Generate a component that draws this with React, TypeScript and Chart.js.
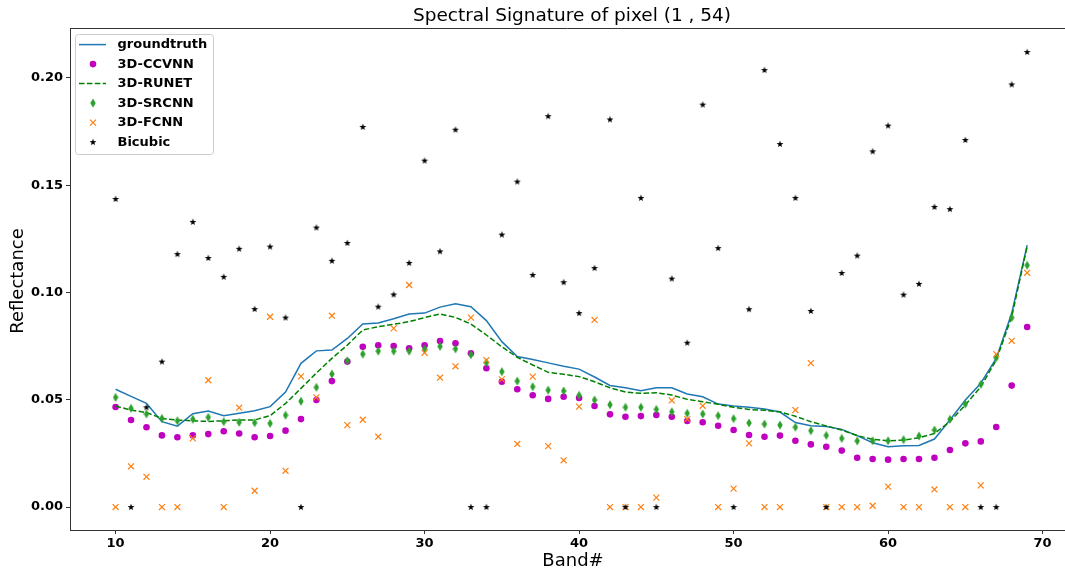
import React, { useEffect, useRef } from "react";
import { Chart, registerables } from "chart.js";

Chart.register(...registerables);

const bands = [10, 11, 12, 13, 14, 15, 16, 17, 18, 19, 20, 21, 22, 23, 24, 25, 26, 27, 28, 29, 30, 31, 32, 33, 34, 35, 36, 37, 38, 39, 40, 41, 42, 43, 44, 45, 46, 47, 48, 49, 50, 51, 52, 53, 54, 55, 56, 57, 58, 59, 60, 61, 62, 63, 64, 65, 66, 67, 68, 69];

const groundtruth = [0.0549, 0.0516, 0.0483, 0.0398, 0.0377, 0.0435, 0.0448, 0.0426, 0.0437, 0.0449, 0.0468, 0.0536, 0.067, 0.0728, 0.0732, 0.0786, 0.0853, 0.0858, 0.0878, 0.09, 0.0904, 0.0932, 0.0948, 0.0934, 0.0869, 0.0771, 0.0702, 0.0688, 0.0672, 0.0656, 0.0643, 0.0606, 0.0567, 0.0556, 0.0542, 0.0556, 0.0556, 0.0527, 0.0514, 0.048, 0.0471, 0.0465, 0.0457, 0.0443, 0.0394, 0.0379, 0.0375, 0.0362, 0.0333, 0.03, 0.0281, 0.0286, 0.0287, 0.0317, 0.0406, 0.0499, 0.0577, 0.0693, 0.0903, 0.1221];

const ccvnn = [0.0466, 0.0406, 0.0372, 0.0334, 0.0325, 0.0334, 0.034, 0.0353, 0.0343, 0.0325, 0.0331, 0.0356, 0.041, 0.0499, 0.0587, 0.0678, 0.0747, 0.0754, 0.0751, 0.074, 0.0754, 0.0774, 0.0763, 0.0717, 0.0647, 0.0584, 0.0549, 0.0521, 0.0504, 0.0514, 0.0508, 0.0471, 0.0432, 0.0421, 0.0424, 0.0429, 0.0421, 0.0401, 0.0395, 0.0379, 0.0359, 0.0336, 0.0328, 0.0333, 0.0309, 0.0292, 0.0281, 0.0263, 0.023, 0.0224, 0.0221, 0.0224, 0.0224, 0.023, 0.0266, 0.0297, 0.0306, 0.0373, 0.0566, 0.0839];

const runet = [0.0471, 0.0452, 0.044, 0.0413, 0.0406, 0.0402, 0.0399, 0.0402, 0.0406, 0.0406, 0.0426, 0.0483, 0.0553, 0.0625, 0.0693, 0.0755, 0.0825, 0.0841, 0.0852, 0.0864, 0.0883, 0.09, 0.0884, 0.0853, 0.0802, 0.0747, 0.0698, 0.0662, 0.0628, 0.0619, 0.0608, 0.0584, 0.0556, 0.0536, 0.053, 0.0533, 0.0522, 0.0502, 0.0491, 0.0479, 0.0465, 0.0455, 0.0451, 0.0444, 0.0423, 0.0398, 0.0378, 0.0359, 0.0333, 0.0316, 0.0309, 0.0312, 0.0323, 0.0343, 0.0398, 0.0476, 0.0561, 0.0685, 0.0887, 0.1215];

const srcnn = [0.0511, 0.046, 0.0434, 0.0413, 0.0402, 0.0409, 0.0418, 0.0398, 0.0395, 0.0393, 0.039, 0.0428, 0.0493, 0.0558, 0.062, 0.0682, 0.0713, 0.0727, 0.0727, 0.0727, 0.0737, 0.0749, 0.0737, 0.071, 0.0673, 0.0631, 0.0587, 0.0561, 0.0545, 0.0541, 0.0521, 0.0499, 0.0477, 0.0465, 0.0465, 0.0455, 0.0444, 0.0437, 0.0434, 0.0426, 0.0412, 0.0392, 0.0387, 0.0382, 0.0372, 0.0356, 0.0334, 0.032, 0.0308, 0.0309, 0.0309, 0.0314, 0.0331, 0.0359, 0.0409, 0.048, 0.0572, 0.0696, 0.0883, 0.1127];

const fcnn = [0, 0.019, 0.0141, 0, 0, 0.032, 0.0591, 0, 0.0463, 0.0076, 0.0887, 0.0169, 0.0609, 0.0511, 0.0892, 0.0382, 0.0407, 0.0328, 0.0833, 0.1035, 0.0719, 0.0603, 0.0656, 0.0883, 0.0685, 0.0595, 0.0294, 0.0608, 0.0284, 0.0218, 0.0468, 0.0872, 0, 0, 0, 0.0044, 0.0497, 0.041, 0.0472, 0, 0.0086, 0.0297, 0, 0, 0.0452, 0.0671, 0, 0, 0, 0.0006, 0.0095, 0, 0, 0.0082, 0, 0, 0.0101, 0.0713, 0.0775, 0.1092];

const bicubic = [0.1436, 0, 0.0465, 0.0678, 0.1179, 0.1329, 0.1161, 0.1073, 0.1204, 0.0923, 0.1214, 0.0883, 0, 0.1303, 0.1148, 0.1231, 0.1772, 0.0934, 0.0991, 0.1138, 0.1615, 0.1192, 0.1759, 0, 0, 0.127, 0.1517, 0.1082, 0.1822, 0.1048, 0.0904, 0.1114, 0.1807, 0, 0.1441, 0, 0.1065, 0.0766, 0.1876, 0.1207, 0, 0.0922, 0.2037, 0.1692, 0.1441, 0.0914, 0, 0.1091, 0.1172, 0.1658, 0.1778, 0.099, 0.104, 0.1399, 0.1389, 0.1711, 0, 0, 0.197, 0.2121];

const xTicks = [10, 20, 30, 40, 50, 60, 70];
const yTicks = [0, 0.05, 0.1, 0.15, 0.2];
const seriesNames = ["groundtruth", "3D-CCVNN", "3D-RUNET", "3D-SRCNN", "3D-FCNN", "Bicubic"];
const titleText = "Spectral Signature of pixel (1 , 54)";
const xLabel = "Band#";
const yLabel = "Reflectance";

const FONT = '"DejaVu Sans", sans-serif';

function makeStar(): HTMLCanvasElement {
  const c = document.createElement("canvas");
  c.width = 8;
  c.height = 8;
  const ctx = c.getContext("2d")!;
  const cx = 4, cy = 4.2, ro = 3.6, ri = 1.45;
  ctx.beginPath();
  for (let i = 0; i < 10; i++) {
    const r = i % 2 === 0 ? ro : ri;
    const a = -Math.PI / 2 + (i * Math.PI) / 5;
    const px = cx + r * Math.cos(a);
    const py = cy + r * Math.sin(a);
    if (i === 0) ctx.moveTo(px, py);
    else ctx.lineTo(px, py);
  }
  ctx.closePath();
  ctx.fillStyle = "#000";
  ctx.fill();
  return c;
}

function makeDiamond(): HTMLCanvasElement {
  const c = document.createElement("canvas");
  c.width = 6;
  c.height = 10;
  const ctx = c.getContext("2d")!;
  ctx.beginPath();
  ctx.moveTo(3, 0.4);
  ctx.lineTo(5.7, 5);
  ctx.lineTo(3, 9.6);
  ctx.lineTo(0.3, 5);
  ctx.closePath();
  ctx.fillStyle = "#2ca02c";
  ctx.fill();
  return c;
}

export default function App() {
  const ref = useRef<HTMLCanvasElement>(null);

  useEffect(() => {
    const canvas = ref.current;
    if (!canvas) return;
    const star = makeStar();
    const diamond = makeDiamond();
    const pts = (arr: number[]) => bands.map((b, i) => ({ x: b, y: arr[i] }));

    const decor = {
      id: "decor",
      afterDraw(chart: any) {
        const ctx: CanvasRenderingContext2D = chart.ctx;
        const a = chart.chartArea;
        ctx.save();
        ctx.strokeStyle = "#333";
        ctx.lineWidth = 1;
        ctx.beginPath();
        ctx.moveTo(a.left, a.top + 0.5);
        ctx.lineTo(a.right, a.top + 0.5);
        ctx.stroke();

        ctx.fillStyle = "#000";
        ctx.textAlign = "center";
        ctx.textBaseline = "middle";
        ctx.font = `18.5px ${FONT}`;
        ctx.fillText(titleText, 572, 16);
        ctx.font = `18px ${FONT}`;
        ctx.fillText(xLabel, 573, 561);
        ctx.save();
        ctx.translate(18, 281);
        ctx.rotate(-Math.PI / 2);
        ctx.fillText(yLabel, 0, 0);
        ctx.restore();

        const bx = 75.5, by = 34.5, bw = 138, bh = 120, r = 3;
        ctx.beginPath();
        ctx.moveTo(bx + r, by);
        ctx.lineTo(bx + bw - r, by);
        ctx.quadraticCurveTo(bx + bw, by, bx + bw, by + r);
        ctx.lineTo(bx + bw, by + bh - r);
        ctx.quadraticCurveTo(bx + bw, by + bh, bx + bw - r, by + bh);
        ctx.lineTo(bx + r, by + bh);
        ctx.quadraticCurveTo(bx, by + bh, bx, by + bh - r);
        ctx.lineTo(bx, by + r);
        ctx.quadraticCurveTo(bx, by, bx + r, by);
        ctx.closePath();
        ctx.fillStyle = "rgba(255,255,255,0.8)";
        ctx.fill();
        ctx.strokeStyle = "#cccccc";
        ctx.lineWidth = 1;
        ctx.stroke();

        const rowY = (i: number) => 44.6 + i * 19.5;
        const hx0 = 79, hx1 = 106, hm = 93;
        ctx.strokeStyle = "#1f77b4";
        ctx.lineWidth = 1.5;
        ctx.beginPath();
        ctx.moveTo(hx0, rowY(0));
        ctx.lineTo(hx1, rowY(0));
        ctx.stroke();
        ctx.fillStyle = "#bf00bf";
        ctx.beginPath();
        ctx.arc(hm, rowY(1), 3.3, 0, Math.PI * 2);
        ctx.fill();
        ctx.strokeStyle = "#008000";
        ctx.setLineDash([5.5, 2.4]);
        ctx.beginPath();
        ctx.moveTo(hx0, rowY(2));
        ctx.lineTo(hx1, rowY(2));
        ctx.stroke();
        ctx.setLineDash([]);
        ctx.drawImage(diamond, hm - 3, rowY(3) - 5);
        ctx.strokeStyle = "#ff7f0e";
        ctx.lineWidth = 1.2;
        ctx.beginPath();
        ctx.moveTo(hm - 3, rowY(4) - 3);
        ctx.lineTo(hm + 3, rowY(4) + 3);
        ctx.moveTo(hm + 3, rowY(4) - 3);
        ctx.lineTo(hm - 3, rowY(4) + 3);
        ctx.stroke();
        ctx.drawImage(star, hm - 4, rowY(5) - 4);

        ctx.fillStyle = "#000";
        ctx.textAlign = "left";
        ctx.textBaseline = "middle";
        ctx.font = `bold 13px ${FONT}`;
        seriesNames.forEach((n, i) => ctx.fillText(n, 117.5, rowY(i) + 0.5));
        ctx.restore();
      },
    };

    const chart = new Chart(canvas, {
      type: "scatter",
      data: {
        datasets: [
          {
            label: seriesNames[0],
            data: pts(groundtruth),
            showLine: true,
            borderColor: "#1f77b4",
            borderWidth: 1.5,
            pointRadius: 0,
            fill: false,
            tension: 0,
            order: 6,
          },
          {
            label: seriesNames[1],
            data: pts(ccvnn),
            pointStyle: "circle",
            pointRadius: 3.3,
            backgroundColor: "#bf00bf",
            borderWidth: 0,
            order: 5,
          },
          {
            label: seriesNames[2],
            data: pts(runet),
            showLine: true,
            borderColor: "#008000",
            borderWidth: 1.5,
            borderDash: [5.5, 2.4],
            pointRadius: 0,
            fill: false,
            tension: 0,
            order: 4,
          },
          {
            label: seriesNames[3],
            data: pts(srcnn),
            pointStyle: diamond as any,
            pointRadius: 4,
            order: 3,
          },
          {
            label: seriesNames[4],
            data: pts(fcnn),
            pointStyle: "crossRot",
            pointRadius: 4.2,
            borderColor: "#ff7f0e",
            borderWidth: 1.2,
            order: 2,
          },
          {
            label: seriesNames[5],
            data: pts(bicubic),
            pointStyle: star as any,
            pointRadius: 4,
            order: 1,
          },
        ] as any,
      },
      options: {
        animation: false,
        responsive: false,
        maintainAspectRatio: false,
        devicePixelRatio: 1,
        layout: { autoPadding: false, padding: { top: 28, left: 0, right: 0, bottom: 0 } },
        plugins: {
          legend: { display: false },
          title: { display: false },
          tooltip: { enabled: false },
        },
        scales: {
          x: {
            type: "linear",
            min: 7.05,
            max: 71.45,
            afterBuildTicks: (s: any) => {
              s.ticks = xTicks.map((v) => ({ value: v }));
            },
            afterFit: (s: any) => {
              s.height = 42;
            },
            grid: { drawOnChartArea: false, drawTicks: true, tickLength: 4, color: "#333" },
            border: { display: true, color: "#333", width: 1 },
            ticks: {
              color: "#000",
              font: { family: FONT, size: 13, weight: "bold" },
              padding: 2,
              maxRotation: 0,
              autoSkip: false,
              callback: (v: any) => String(v),
            },
          },
          y: {
            type: "linear",
            min: -0.0107,
            max: 0.2233,
            afterBuildTicks: (s: any) => {
              s.ticks = yTicks.map((v) => ({ value: v }));
            },
            afterFit: (s: any) => {
              s.width = 70;
            },
            grid: { drawOnChartArea: false, drawTicks: true, tickLength: 4, color: "#333" },
            border: { display: true, color: "#333", width: 1 },
            ticks: {
              color: "#000",
              font: { family: FONT, size: 13, weight: "bold" },
              padding: 3,
              autoSkip: false,
              callback: (v: any) => Number(v).toFixed(2),
            },
          },
        },
      } as any,
      plugins: [decor],
    });

    return () => chart.destroy();
  }, []);

  return (
    <div style={{ position: "absolute", left: 0, top: 0, width: 1065, height: 572, background: "#fff" }}>
      <canvas ref={ref} width={1065} height={572} style={{ display: "block", width: 1065, height: 572 }} />
    </div>
  );
}
